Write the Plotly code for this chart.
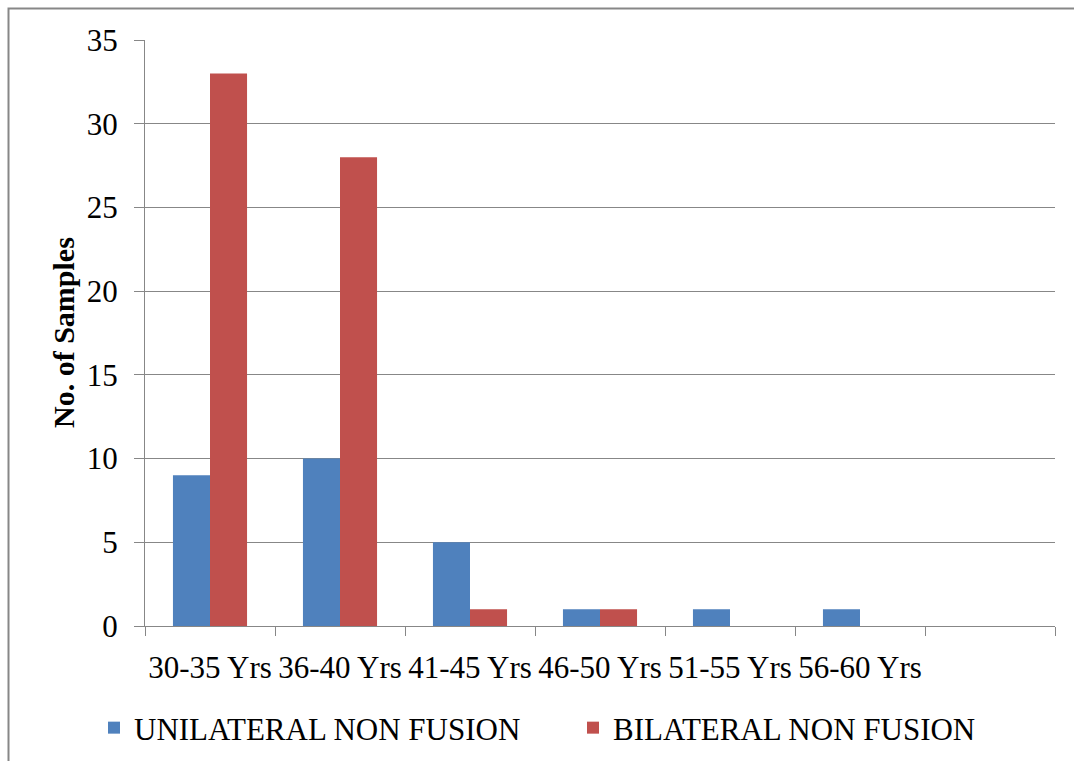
import plotly.graph_objects as go

# Age groups (the last slot on the axis is left empty)
age_groups = ["30-35 Yrs", "36-40 Yrs", "41-45 Yrs", "46-50 Yrs", "51-55 Yrs", "56-60 Yrs", " "]
unilateral = [9, 10, 5, 1, 1, 1, None]
bilateral = [33, 28, 1, 1, 0, 0, None]

BLUE = "#4F81BD"
RED = "#C0504D"
GRID = "#878787"
FONT = "Liberation Serif"
FS = 31

fig = go.Figure()
fig.add_trace(go.Bar(x=age_groups, y=unilateral, name="UNILATERAL NON FUSION",
                     marker=dict(color=BLUE, line=dict(width=0))))
fig.add_trace(go.Bar(x=age_groups, y=bilateral, name="BILATERAL NON FUSION",
                     marker=dict(color=RED, line=dict(width=0))))

W, H = 1074, 761
L, R, T, B = 145, 19, 40, 135
pw, ph = W - L - R, H - T - B

def px_x(v):
    return (v - L) / pw

def px_y(v):
    return (H - B - v) / ph

fig.update_layout(
    width=W, height=H,
    margin=dict(l=L, r=R, t=T, b=B, autoexpand=False),
    paper_bgcolor="white", plot_bgcolor="white",
    font=dict(family=FONT, size=FS, color="black"),
    barmode="group", bargap=0.43, bargroupgap=0,
    showlegend=True,
    legend=dict(orientation="h", x=px_x(94), y=px_y(728), xanchor="left", yanchor="middle",
                font=dict(family=FONT, size=FS, color="black"),
                entrywidth=434, entrywidthmode="pixels", traceorder="normal"),
    xaxis=dict(type="category", tickson="boundaries", ticks="outside", ticklen=9,
               tickcolor=GRID, showline=True, linecolor=GRID, linewidth=1,
               showgrid=False, ticklabelstandoff=14, tickangle=0, automargin=False,
               tickfont=dict(family=FONT, size=FS, color="black")),
    yaxis=dict(range=[0, 35], dtick=5, ticks="outside", ticklen=10, tickcolor=GRID,
               showline=True, linecolor=GRID, linewidth=1,
               showgrid=True, gridcolor=GRID, gridwidth=1, zeroline=False,
               ticklabelstandoff=10, automargin=False,
               tickfont=dict(family=FONT, size=FS, color="black")),
    annotations=[dict(text="<b>No. of Samples</b>", textangle=-90, xref="paper", yref="paper",
                      x=px_x(63), y=0.5, xanchor="center", yanchor="middle", showarrow=False,
                      font=dict(family=FONT, size=FS - 1, color="black"))],
    shapes=[dict(type="rect", xref="paper", yref="paper",
                 x0=px_x(8.5), x1=px_x(1090), y0=px_y(780), y1=px_y(8.5),
                 line=dict(color=GRID, width=2), fillcolor="rgba(0,0,0,0)", layer="below")],
)

fig.write_html("out.html")
